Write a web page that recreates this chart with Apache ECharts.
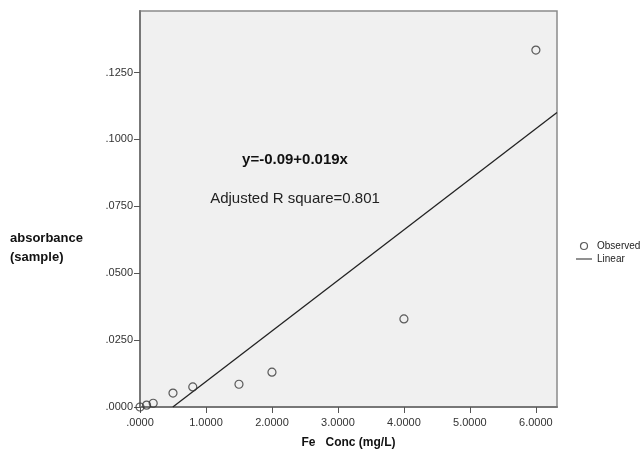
<!DOCTYPE html>
<html>
<head>
<meta charset="utf-8">
<script src="https://cdn.jsdelivr.net/npm/echarts@6/dist/echarts.min.js"></script>
<style>
  html, body { margin: 0; padding: 0; background: #fff; }
  #chart { width: 641px; height: 455px; }
</style>
</head>
<body>
<div id="chart"></div>
<script>
// observed points (Fe conc mg/L, absorbance)
const concValues = [0, 0.1, 0.2, 0.5, 0.8, 1.5, 2.0, 4.0, 6.0];
const absorbanceValues = [0.0000, 0.0007, 0.0014, 0.0052, 0.0075, 0.0085, 0.0130, 0.0329, 0.1334];
// fitted line
const fitIntercept = -0.0094;
const fitSlope = 0.0189;
const xTicks = [0, 1, 2, 3, 4, 5, 6];
const yTicks = [0, 0.025, 0.05, 0.075, 0.1, 0.125];
const xMax = 6.32;
const yMax = 0.148;

const fmt = (v) => {
  let s = Number(v).toFixed(4);
  if (s.startsWith("0.")) s = s.slice(1);
  return s;
};

const observed = concValues.map((x, i) => [x, absorbanceValues[i]]);
const lineStart = -fitIntercept / fitSlope;
const linear = [lineStart, xMax].map((x) => [x, fitIntercept + fitSlope * x]);

const myChart = echarts.init(document.getElementById("chart"));
const font = "Liberation Sans, Arial, sans-serif";
const option = {
  animation: false,
  textStyle: { fontFamily: font },
  grid: {
    left: 140,
    right: 84,
    top: 11,
    bottom: 48,
    show: true,
    backgroundColor: "#f0f0f0",
    borderColor: "#8a8a8a",
    borderWidth: 1.5,
  },
  legend: {
    orient: "vertical",
    left: 571,
    top: 236,
    itemGap: 3,
    itemWidth: 16,
    itemHeight: 7,
    textStyle: { fontSize: 10, color: "#222", fontFamily: font },
    data: [
      { name: "Observed", icon: "circle", itemStyle: { color: "rgba(0,0,0,0)", borderColor: "#333", borderWidth: 1.2 } },
      { name: "Linear", icon: "path://M0,0 L16,0 L16,1 L0,1 Z", itemStyle: { color: "#222" } },
    ],
  },
  xAxis: {
    type: "value",
    min: 0,
    max: xMax,
    name: "Fe   Conc (mg/L)",
    nameLocation: "middle",
    nameGap: 30,
    nameTextStyle: { fontSize: 12, fontWeight: "bold", color: "#111", fontFamily: font },
    axisLine: { show: true, lineStyle: { color: "#777", width: 2 } },
    axisTick: { show: true, length: 6, customValues: xTicks, lineStyle: { color: "#555" } },
    axisLabel: { customValues: xTicks, formatter: fmt, fontSize: 11, color: "#333", margin: 10 },
    splitLine: { show: false },
  },
  yAxis: {
    type: "value",
    min: 0,
    max: yMax,
    axisLine: { show: true, lineStyle: { color: "#777", width: 2 } },
    axisTick: { show: true, length: 6, customValues: yTicks, lineStyle: { color: "#555" } },
    axisLabel: { customValues: yTicks, formatter: fmt, fontSize: 11, color: "#333", margin: 7 },
    splitLine: { show: false },
  },
  graphic: [
    {
      type: "text",
      left: 10,
      top: 229,
      style: {
        text: "absorbance\n(sample)",
        font: "bold 13px " + font,
        fill: "#111",
        lineHeight: 19,
      },
    },
    {
      type: "text",
      x: 295,
      y: 160,
      style: {
        text: "y=-0.09+0.019x",
        font: "bold 15px " + font,
        fill: "#111",
        align: "center",
        verticalAlign: "middle",
      },
    },
    {
      type: "text",
      x: 295,
      y: 199,
      style: {
        text: "Adjusted R square=0.801",
        font: "15px " + font,
        fill: "#222",
        align: "center",
        verticalAlign: "middle",
      },
    },
  ],
  series: [
    {
      name: "Observed",
      type: "scatter",
      data: observed,
      symbol: "circle",
      symbolSize: 8,
      itemStyle: { color: "rgba(0,0,0,0)", borderColor: "#333", borderWidth: 1.2 },
      z: 3,
    },
    {
      name: "Linear",
      type: "line",
      data: linear,
      showSymbol: false,
      symbol: "none",
      lineStyle: { color: "#222", width: 1.3 },
      z: 2,
    },
  ],
};
myChart.setOption(option);
</script>
</body>
</html>
